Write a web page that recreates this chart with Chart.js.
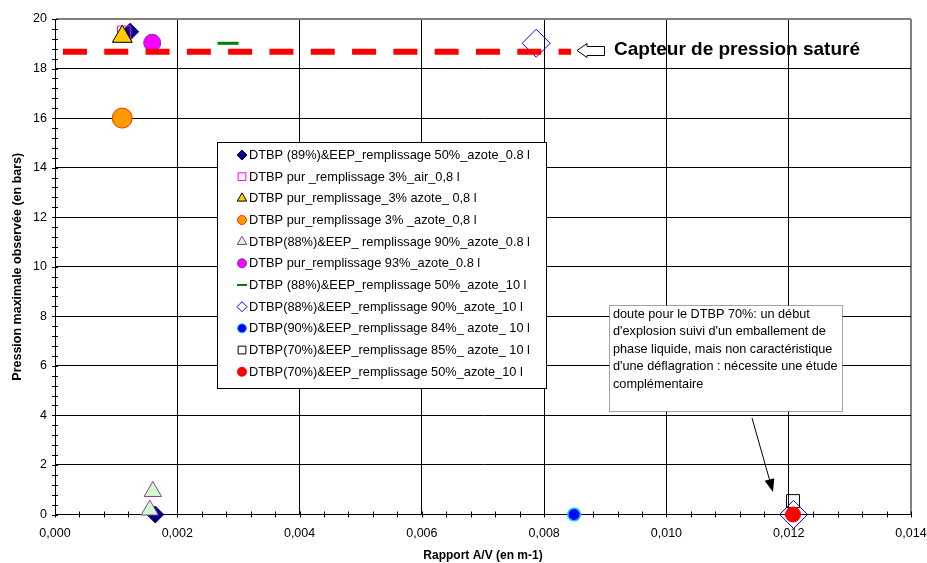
<!DOCTYPE html>
<html>
<head>
<meta charset="utf-8">
<script src="https://cdn.jsdelivr.net/npm/chart.js@4.4.0/dist/chart.umd.min.js"></script>
<style>
  html, body { margin: 0; padding: 0; background: #fff; }
  #wrap { width: 927px; height: 563px; }
</style>
</head>
<body>
<div id="wrap"><canvas id="pressionChart"></canvas></div>
<script>
// series (Excel order)
const seriesLabels = [
    "DTBP (89%)&EEP_remplissage 50%_azote_0.8 l",
    "DTBP pur _remplissage 3%_air_0,8 l",
    "DTBP pur_remplissage_3% azote_ 0,8 l",
    "DTBP pur_remplissage 3% _azote_0,8 l",
    "DTBP(88%)&EEP_ remplissage 90%_azote_0.8 l",
    "DTBP pur_remplissage 93%_azote_0.8 l",
    "DTBP (88%)&EEP_remplissage 50%_azote_10 l",
    "DTBP(88%)&EEP_remplissage 90%_azote_10 l",
    "DTBP(90%)&EEP_remplissage 84%_ azote_ 10 l",
    "DTBP(70%)&EEP_remplissage 85%_ azote_ 10 l",
    "DTBP(70%)&EEP_remplissage 50%_azote_10 l"
];
const seriesX = [
    [0.00123, 0.00164],
    [0.00113],
    [0.00110],
    [0.00110],
    [0.00160, 0.00155],
    [0.00159],
    [0.00283],
    [0.00787, 0.01208],
    [0.00849],
    [0.01207],
    [0.01207]
];
const seriesY = [
    [19.49, 0],
    [19.45],
    [19.29],
    [16.0],
    [0.93, 0.18],
    [19.04],
    [19.02],
    [19.02, 0],
    [0],
    [0.54],
    [0]
];
// "capteur saturé" limit line
const saturationX = [0.00013, 0.00844];
const saturationY = [18.68, 18.68];

const xTickLabels = ['0,000', '0,002', '0,004', '0,006', '0,008', '0,010', '0,012', '0,014'];
const yTickLabels = ['0', '2', '4', '6', '8', '10', '12', '14', '16', '18', '20'];

const noteLines = [
    "doute pour le DTBP 70%: un début",
    "d'explosion suivi d'un emballement de",
    "phase liquide, mais non caractéristique",
    "d'une déflagration : nécessite une étude",
    "complémentaire"
];
const saturationText = 'Capteur de pression saturé';

const FONT = "Arial, 'Liberation Sans', sans-serif";

// marker styles per series
const styles = [
    {pointStyle: 'rectRot', radius: 8.5, bg: '#000080', border: '#000080', bw: 1, lr: 5},
    {pointStyle: 'rect', radius: 9.3, bg: 'rgba(0,0,0,0)', border: '#FF00FF', bw: 1, lr: 5.5},
    {pointStyle: 'triangle', radius: 11.5, bg: '#FFCC00', border: '#000000', bw: 1, lr: 5.5},
    {pointStyle: 'circle', radius: 10, bg: '#FF9900', border: '#FF3300', bw: 1, lr: 4.5},
    {pointStyle: 'triangle', radius: 10, bg: '#CCFFCC', border: '#993399', bw: 1, lr: 5.5},
    {pointStyle: 'circle', radius: 8.5, bg: '#FF00FF', border: '#6633CC', bw: 1, lr: 4.5},
    {pointStyle: 'line', radius: 10.5, bg: '#008000', border: '#008000', bw: 3, lr: 5},
    {pointStyle: 'rectRot', radius: 14, bg: 'rgba(0,0,0,0)', border: '#0000FF', bw: 1, lr: 5},
    {pointStyle: 'circle', radius: 6.2, bg: '#0000FF', border: '#00CCFF', bw: 1.5, lr: 4.5},
    {pointStyle: 'rect', radius: 9.2, bg: 'rgba(0,0,0,0)', border: '#000000', bw: 1, lr: 5.5},
    {pointStyle: 'circle', radius: 7.5, bg: '#FF0000', border: '#FF0000', bw: 1, lr: 4.5}
];

const datasets = seriesLabels.map(function (label, i) {
    const s = styles[i];
    return {
        label: label,
        data: seriesX[i].map((x, j) => ({x: x, y: seriesY[i][j]})),
        pointStyle: s.pointStyle,
        pointRadius: s.radius,
        backgroundColor: s.bg,
        borderColor: s.border,
        borderWidth: s.bw,
        showLine: false,
        clip: false,
        order: -i
    };
});
datasets.push({
    label: 'saturation',
    data: saturationX.map((x, j) => ({x: x, y: saturationY[j]})),
    showLine: true,
    pointRadius: 0,
    borderColor: '#FF0000',
    borderWidth: 6,
    borderDash: [24, 17.3],
    borderCapStyle: 'butt',
    order: -100
});

function minorTicks(max, step) {
    const n = Math.round(max / step);
    const out = [];
    for (let i = 0; i <= n; i++) out.push({value: +(i * step).toFixed(6)});
    return out;
}

const crossTicks = {
    id: 'crossTicks',
    beforeDatasetsDraw(chart) {
        const ctx = chart.ctx;
        const xs = chart.scales.x, ys = chart.scales.y;
        ctx.save();
        ctx.strokeStyle = '#000';
        ctx.lineWidth = 1;
        ctx.beginPath();
        xs.ticks.forEach(t => {
            const px = Math.round(xs.getPixelForValue(t.value)) + 0.5;
            ctx.moveTo(px, ys.bottom - 3);
            ctx.lineTo(px, ys.bottom + 3);
        });
        ys.ticks.forEach(t => {
            const py = Math.round(ys.getPixelForValue(t.value)) + 0.5;
            ctx.moveTo(xs.left - 3, py);
            ctx.lineTo(xs.left + 3, py);
        });
        ctx.stroke();
        ctx.restore();
    }
};

const overlays = {
    id: 'overlays',
    afterDatasetsDraw(chart) {
        const ctx = chart.ctx;
        ctx.save();

        // legend box
        const lx = 217.5, ly = 142.5, lw = 329, lh = 246;
        ctx.fillStyle = '#fff';
        ctx.fillRect(lx, ly, lw, lh);
        ctx.strokeStyle = '#000';
        ctx.lineWidth = 1;
        ctx.strokeRect(lx, ly, lw, lh);
        ctx.font = '12.8px ' + FONT;
        ctx.textBaseline = 'middle';
        ctx.textAlign = 'left';
        seriesLabels.forEach(function (label, i) {
            const s = styles[i];
            const cy = 155 + i * 21.67;
            ctx.fillStyle = s.bg;
            ctx.strokeStyle = s.border;
            ctx.lineWidth = s.pointStyle === 'line' ? 2 : 1;
            Chart.helpers.drawPoint(ctx, {
                pointStyle: s.pointStyle, radius: s.lr, rotation: 0,
                borderWidth: s.pointStyle === 'line' ? 2 : 1
            }, 242, cy);
            ctx.fillStyle = '#000';
            ctx.fillText(label, 249, cy + 0.5);
        });

        // note box
        const nx = 609.5, ny = 305.5, nw = 233, nh = 106;
        ctx.fillStyle = '#fff';
        ctx.fillRect(nx, ny, nw, nh);
        ctx.setLineDash([1, 1]);
        ctx.strokeStyle = '#444';
        ctx.strokeRect(nx, ny, nw, nh);
        ctx.setLineDash([]);
        ctx.fillStyle = '#000';
        ctx.font = '12.7px ' + FONT;
        noteLines.forEach((t, i) => ctx.fillText(t, 613, 314 + i * 17.6));

        // arrow to the 10 l points
        const ax0 = 752, ay0 = 418, ax1 = 773, ay1 = 492;
        const ang = Math.atan2(ay1 - ay0, ax1 - ax0);
        ctx.strokeStyle = '#000';
        ctx.lineWidth = 1;
        ctx.beginPath();
        ctx.moveTo(ax0, ay0);
        ctx.lineTo(ax1 - Math.cos(ang) * 8, ay1 - Math.sin(ang) * 8);
        ctx.stroke();
        ctx.beginPath();
        ctx.moveTo(ax1, ay1);
        ctx.lineTo(ax1 - Math.cos(ang) * 13 + Math.sin(ang) * 5, ay1 - Math.sin(ang) * 13 - Math.cos(ang) * 5);
        ctx.lineTo(ax1 - Math.cos(ang) * 13 - Math.sin(ang) * 5, ay1 - Math.sin(ang) * 13 + Math.cos(ang) * 5);
        ctx.closePath();
        ctx.fill();

        // hollow left arrow + label
        ctx.beginPath();
        ctx.moveTo(577, 50.5);
        ctx.lineTo(587, 43.5);
        ctx.lineTo(587, 46.5);
        ctx.lineTo(604.5, 46.5);
        ctx.lineTo(604.5, 55.5);
        ctx.lineTo(587, 55.5);
        ctx.lineTo(587, 57.5);
        ctx.closePath();
        ctx.fillStyle = '#fff';
        ctx.fill();
        ctx.stroke();
        ctx.fillStyle = '#000';
        ctx.font = 'bold 19px ' + FONT;
        ctx.fillText(saturationText, 614, 49.5);

        ctx.restore();
    }
};

new Chart(document.getElementById('pressionChart'), {
    type: 'scatter',
    data: {datasets: datasets},
    plugins: [crossTicks, overlays],
    options: {
        responsive: true,
        maintainAspectRatio: false,
        animation: false,
        events: [],
        layout: {padding: {top: 19, right: 16, left: 0, bottom: 0}},
        plugins: {
            legend: {display: false},
            tooltip: {enabled: false}
        },
        scales: {
            x: {
                type: 'linear',
                min: 0,
                max: 0.014,
                afterBuildTicks: s => { s.ticks = minorTicks(0.014, 0.0004); },
                afterFit: s => { s.height = 48.5; s.paddingLeft = 0; s.paddingRight = 0; },
                ticks: {
                    autoSkip: false,
                    maxRotation: 0,
                    padding: 12,
                    color: '#000',
                    font: {family: FONT, size: 12.5},
                    callback: (v, i) => i % 5 === 0 ? xTickLabels[i / 5] : ''
                },
                grid: {
                    drawTicks: false,
                    color: c => c.index % 5 !== 0 ? 'rgba(0,0,0,0)' : (c.index === 35 ? '#808080' : '#000'),
                    lineWidth: c => c.index === 35 ? 2 : 1
                },
                border: {color: '#000', width: 1},
                title: {
                    display: true,
                    text: 'Rapport A/V (en m-1)',
                    color: '#000',
                    font: {family: FONT, size: 12, weight: 'bold'},
                    padding: {top: 4, bottom: 0}
                }
            },
            y: {
                type: 'linear',
                min: 0,
                max: 20,
                afterBuildTicks: s => { s.ticks = minorTicks(20, 0.4); },
                afterFit: s => { s.width = 55; },
                ticks: {
                    autoSkip: false,
                    padding: 8,
                    color: '#000',
                    font: {family: FONT, size: 12.5},
                    callback: (v, i) => i % 5 === 0 ? yTickLabels[i / 5] : ''
                },
                grid: {
                    drawTicks: false,
                    color: c => c.index % 5 !== 0 ? 'rgba(0,0,0,0)' : (c.index === 50 ? '#808080' : '#000'),
                    lineWidth: c => c.index === 50 ? 2 : 1
                },
                border: {color: '#000', width: 1},
                title: {
                    display: true,
                    text: 'Pression maximale observée (en bars)',
                    color: '#000',
                    font: {family: FONT, size: 12.5, weight: 'bold'},
                    padding: {top: 10, bottom: 2}
                }
            }
        }
    }
});
</script>
</body>
</html>
